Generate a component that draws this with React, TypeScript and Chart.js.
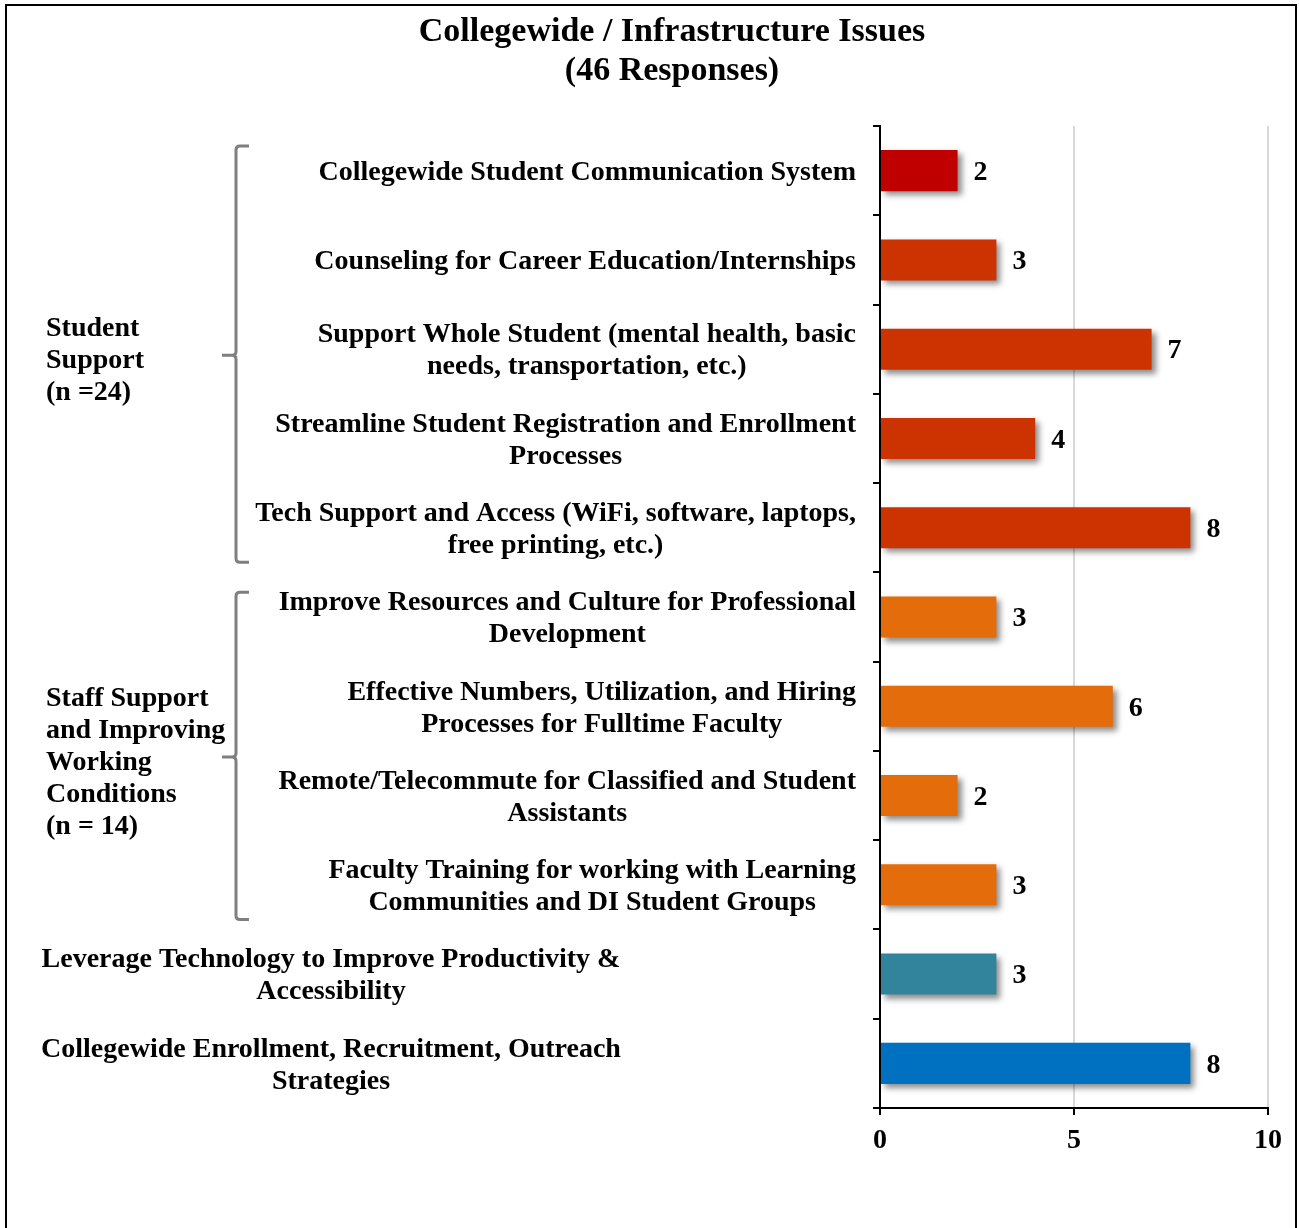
import React, { useEffect, useRef } from "react";
import { Chart, registerables } from "chart.js";

Chart.register(...registerables);

const FONT = '"Liberation Serif", "Times New Roman", Times, serif';

const titleLines = ["Collegewide / Infrastructure Issues", "(46 Responses)"];

const categories = [
  "Collegewide Student Communication System",
  "Counseling for Career Education/Internships",
  "Support Whole Student (mental health, basic needs, transportation, etc.)",
  "Streamline Student Registration and Enrollment Processes",
  "Tech Support and Access (WiFi, software, laptops, free printing, etc.)",
  "Improve Resources and Culture for Professional Development",
  "Effective Numbers, Utilization, and Hiring Processes for Fulltime Faculty",
  "Remote/Telecommute for Classified and Student Assistants",
  "Faculty Training for working with Learning Communities and DI Student Groups",
  "Leverage Technology to Improve Productivity & Accessibility",
  "Collegewide Enrollment, Recruitment, Outreach Strategies",
];

// wrapped lines as shown next to the axis (empty = label sits in the outer column)
const innerLabelLines: string[][] = [
  ["Collegewide Student Communication System"],
  ["Counseling for Career Education/Internships"],
  ["Support Whole Student (mental health, basic", "needs, transportation, etc.)"],
  ["Streamline Student Registration and Enrollment", "Processes"],
  ["Tech Support and Access (WiFi, software, laptops,", "free printing, etc.)"],
  ["Improve Resources and Culture for Professional", "Development"],
  ["Effective Numbers, Utilization, and Hiring", "Processes for Fulltime Faculty"],
  ["Remote/Telecommute for Classified and Student", "Assistants"],
  ["Faculty Training for working with Learning", "Communities and DI Student Groups"],
  [],
  [],
];

const outerLabelLines: string[][] = [
  [], [], [], [], [], [], [], [], [],
  ["Leverage Technology to Improve Productivity &", "Accessibility"],
  ["Collegewide Enrollment, Recruitment, Outreach", "Strategies"],
];

const values = [2, 3, 7, 4, 8, 3, 6, 2, 3, 3, 8];

const barColors = [
  "#C00000",
  "#CC3300", "#CC3300", "#CC3300", "#CC3300",
  "#E46C0A", "#E46C0A", "#E46C0A", "#E46C0A",
  "#31849B",
  "#0070C0",
];

const groupNames: string[][] = [
  ["Student", "Support", "(n =24)"],
  ["Staff Support", "and Improving", "Working", "Conditions", "(n = 14)"],
];
const groupFrom = [0, 5];
const groupTo = [4, 8];

const xTicks = [0, 5, 10];

const decorPlugin = {
  id: "decor",
  beforeDatasetDraw(chart: any) {
    const ctx = chart.ctx;
    ctx.save();
    ctx.shadowColor = "rgba(0,0,0,0.45)";
    ctx.shadowBlur = 6;
    ctx.shadowOffsetX = 4;
    ctx.shadowOffsetY = 4;
  },
  afterDatasetDraw(chart: any) {
    chart.ctx.restore();
  },
  afterDraw(chart: any) {
    const ctx = chart.ctx as CanvasRenderingContext2D;
    const y = chart.scales.y;
    const step = y.getPixelForValue(1) - y.getPixelForValue(0);
    ctx.save();

    // frame
    ctx.strokeStyle = "#000";
    ctx.lineWidth = 2;
    ctx.beginPath();
    ctx.moveTo(6, 1228);
    ctx.lineTo(6, 5);
    ctx.lineTo(1296, 5);
    ctx.lineTo(1296, 1228);
    ctx.stroke();

    // title
    ctx.fillStyle = "#000";
    ctx.textAlign = "center";
    ctx.textBaseline = "middle";
    ctx.font = `bold 34px ${FONT}`;
    ctx.fillText(titleLines[0], 672, 32);
    ctx.fillText(titleLines[1], 672, 71);

    // inner category labels: right-aligned block, lines centered
    ctx.font = `bold 28px ${FONT}`;
    const lh = 32;
    innerLabelLines.forEach((lines, i) => {
      if (!lines.length) return;
      const cy = y.getPixelForValue(i) + 2;
      const w = Math.max(...lines.map((l) => ctx.measureText(l).width));
      const cx = 856 - w / 2;
      lines.forEach((l, k) => {
        ctx.fillText(l, cx, cy + (k - (lines.length - 1) / 2) * lh);
      });
    });

    // outer labels (no sub category)
    outerLabelLines.forEach((lines, i) => {
      if (!lines.length) return;
      const cy = y.getPixelForValue(i) + 2;
      lines.forEach((l, k) => {
        ctx.fillText(l, 331, cy + (k - (lines.length - 1) / 2) * lh);
      });
    });

    // group labels + brackets
    groupNames.forEach((lines, g) => {
      const top = y.getPixelForValue(groupFrom[g]) - step / 2;
      const bot = y.getPixelForValue(groupTo[g]) + step / 2;
      const mid = (top + bot) / 2 + 10;
      ctx.textAlign = "left";
      ctx.fillStyle = "#000";
      lines.forEach((l, k) => {
        ctx.fillText(l, 46, mid + 2 + (k - (lines.length - 1) / 2) * lh);
      });
      const bx = 236;
      const bt = top + 20;
      const bb = bot - 10;
      const bm = mid - 4;
      ctx.strokeStyle = "#7f7f7f";
      ctx.lineWidth = 3;
      ctx.lineJoin = "round";
      ctx.beginPath();
      ctx.moveTo(249, bt);
      ctx.lineTo(bx + 4, bt);
      ctx.quadraticCurveTo(bx, bt, bx, bt + 4);
      ctx.lineTo(bx, bm - 4);
      ctx.quadraticCurveTo(bx, bm, bx - 4, bm);
      ctx.lineTo(222, bm);
      ctx.moveTo(bx - 4, bm);
      ctx.quadraticCurveTo(bx, bm, bx, bm + 4);
      ctx.lineTo(bx, bb - 4);
      ctx.quadraticCurveTo(bx, bb, bx + 4, bb);
      ctx.lineTo(249, bb);
      ctx.stroke();
    });

    // value labels
    ctx.textAlign = "left";
    ctx.textBaseline = "middle";
    ctx.fillStyle = "#000";
    ctx.font = `bold 28px ${FONT}`;
    const meta = chart.getDatasetMeta(0);
    meta.data.forEach((bar: any, i: number) => {
      ctx.fillText(String(values[i]), bar.x + 16, bar.y + 2);
    });

    ctx.restore();
  },
};

export default function App() {
  const ref = useRef<HTMLCanvasElement | null>(null);

  useEffect(() => {
    document.body.style.margin = "0";
    const canvas = ref.current;
    if (!canvas) return;
    const chart = new Chart(canvas, {
      type: "bar",
      data: {
        labels: categories,
        datasets: [
          {
            data: values,
            backgroundColor: barColors,
            borderWidth: 0,
            barPercentage: 0.46,
            categoryPercentage: 1,
          },
        ],
      },
      options: {
        indexAxis: "y",
        animation: false,
        responsive: false,
        maintainAspectRatio: false,
        layout: { padding: { top: 126, right: 31, left: 0, bottom: 0 } },
        plugins: {
          legend: { display: false },
          title: { display: false },
          tooltip: { enabled: false },
        },
        scales: {
          y: {
            type: "category",
            afterFit: (s: any) => {
              s.width = 880;
            },
            ticks: { display: false },
            grid: {
              drawOnChartArea: false,
              drawTicks: true,
              tickLength: 7,
              color: "#000",
              lineWidth: 2,
              offset: true,
            },
            border: { color: "#000", width: 2 },
          },
          x: {
            type: "linear",
            min: 0,
            max: 10,
            afterFit: (s: any) => {
              s.height = 120;
            },
            afterBuildTicks: (s: any) => {
              s.ticks = xTicks.map((v) => ({ value: v }));
            },
            ticks: {
              color: "#000",
              font: { family: FONT, size: 28, weight: "bold" },
              padding: 9,
              maxRotation: 0,
            },
            grid: {
              color: "#d9d9d9",
              lineWidth: 2,
              tickColor: "#000",
              tickLength: 7,
              drawTicks: true,
            },
            border: { color: "#000", width: 2 },
          },
        },
      },
      plugins: [decorPlugin],
    } as any);
    return () => chart.destroy();
  }, []);

  return (
    <div style={{ width: 1299, height: 1228, background: "#fff" }}>
      <canvas ref={ref} width={1299} height={1228} style={{ display: "block" }} />
    </div>
  );
}
